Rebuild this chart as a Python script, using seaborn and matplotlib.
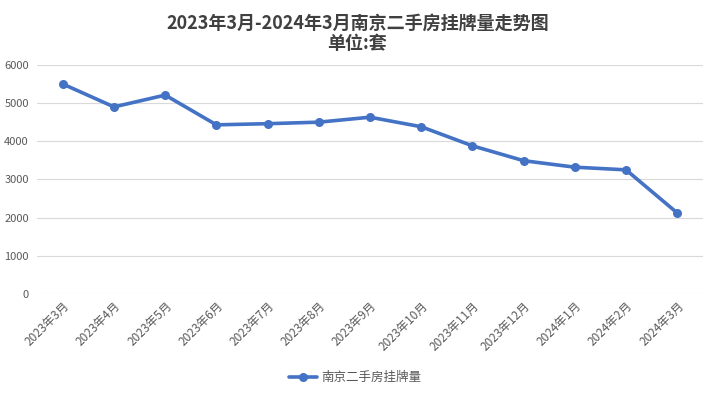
import matplotlib
matplotlib.use("Agg")
import matplotlib.pyplot as plt
import seaborn as sns
import pandas as pd

months = ["2023年3月", "2023年4月", "2023年5月", "2023年6月", "2023年7月", "2023年8月",
          "2023年9月", "2023年10月", "2023年11月", "2023年12月", "2024年1月", "2024年2月", "2024年3月"]
listings = [5500, 4900, 5210, 4430, 4460, 4500, 4630, 4380, 3880, 3490, 3320, 3250, 2120]
series_name = "南京二手房挂牌量"
yticks = [0, 1000, 2000, 3000, 4000, 5000, 6000]

sns.set_theme(style="white")
plt.rcParams['font.family'] = ['Noto Sans CJK SC', 'DejaVu Sans']

df = pd.DataFrame({"month": months, "value": listings, "series": series_name})
df["x"] = range(len(months))

fig = plt.figure(figsize=(7.15, 3.96), dpi=100)
ax = fig.add_axes([0.052, 0.258, 0.931, 0.578])

sns.lineplot(data=df, x="x", y="value", hue="series", palette=["#4472C4"],
             marker="o", markersize=6.5, markeredgewidth=0, linewidth=2.6, ax=ax)

ax.set_xlim(-0.5, len(months) - 0.5)
ax.set_ylim(0, 6000)
ax.set_yticks(yticks)
ax.set_yticklabels([str(v) for v in yticks], fontsize=8, color="#595959")
ax.set_xticks(range(len(months)))
ax.set_xticklabels(months, rotation=45, ha="right", rotation_mode="anchor",
                   fontsize=8.5, color="#595959")
ax.tick_params(axis="both", length=0, pad=6)
ax.tick_params(axis="x", pad=4)
ax.grid(axis="y", color="#d9d9d9", linewidth=0.8)
ax.set_axisbelow(True)
for s in ax.spines.values():
    s.set_visible(False)
ax.set_xlabel("")
ax.set_ylabel("")

fig.text(0.5, 0.965, "2023年3月-2024年3月南京二手房挂牌量走势图\n单位:套", ha="center", va="top",
         fontsize=13, fontweight="bold", color="#404040", linespacing=1.05)

leg = ax.legend(loc="center", bbox_to_anchor=(0.478, -0.367), frameon=False,
                fontsize=9, handlelength=2.2, handletextpad=0.4)
for t in leg.get_texts():
    t.set_color("#595959")

fig.savefig("out.png", dpi=100)
